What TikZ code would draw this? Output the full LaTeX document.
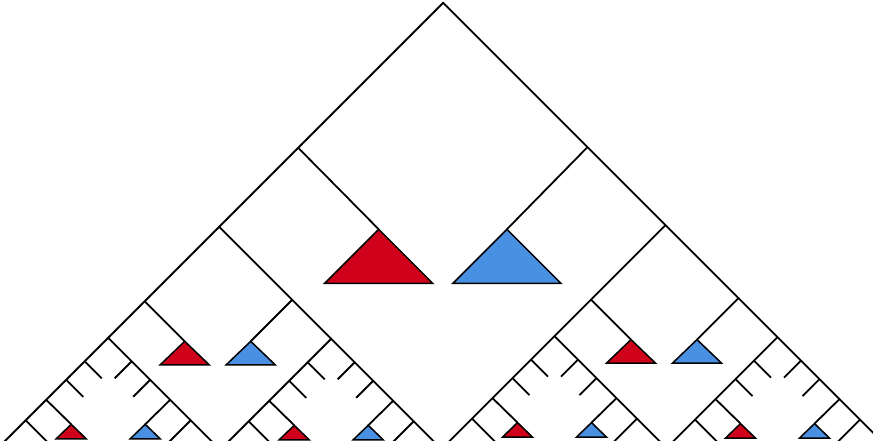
\documentclass[tikz,border=0pt]{standalone}
\usetikzlibrary{calc}
\definecolor{tred}{HTML}{D0021B}
\definecolor{tblue}{HTML}{4A90E2}
\tikzset{
  edge/.style={line width=1.8pt},
  tri/.style={draw=black, line width=1.5pt, line join=miter},
  redtri/.style={tri, fill=tred},
  bluetri/.style={tri, fill=tblue},
  pics/lvthree/.style={code={
    \coordinate (-a) at (0,0);
    \coordinate (-l1) at (-23.5,23.5);
    \coordinate (-l2) at (-42,42);
    \coordinate (-l3) at (-62,62);
    \coordinate (-l4) at (-82.5,82.5);
    \coordinate (-le) at (-108,108);
    \coordinate (-r1) at (23.5,23.5);
    \coordinate (-r2) at (42,42);
    \coordinate (-r3) at (62,62);
    \coordinate (-r4) at (82.5,82.5);
    \coordinate (-re) at (108,108);
    \coordinate (-tl1) at (-6.5,40.5);
    \coordinate (-tl2) at (-25,59);
    \coordinate (-tl4) at (-56.5,108.5);
    \coordinate (-tr1) at (6.5,40.5);
    \coordinate (-tr2) at (25,59);
    \coordinate (-tr4) at (56.5,108.5);
    \coordinate (-rt) at (-37,86.5);
    \coordinate (-bt) at (37,86.5);
    \draw[edge] (-le) -- (-a) -- (-re);
    \draw[edge] (-l1) -- (-tl1);
    \draw[edge] (-l2) -- (-tl2);
    \draw[edge] (-l4) -- (-tl4);
    \draw[edge] (-r1) -- (-tr1);
    \draw[edge] (-r2) -- (-tr2);
    \draw[edge] (-r4) -- (-tr4);
    \draw[edge] (-l3) -- (-rt);
    \draw[edge] (-r3) -- (-bt);
    \draw[redtri] (-rt) -- ++(-15,14.5) -- ++(30,0) -- cycle;
    \draw[bluetri] (-bt) -- ++(-15,14.5) -- ++(30,0) -- cycle;
  }},
  pics/lvtwo/.style={code={
    \coordinate (-a) at (0,0);
    \coordinate (-lj) at (-74.5,74.5);
    \coordinate (-rj) at (73,73);
    \coordinate (-rt) at (-34.5,114.5);
    \coordinate (-bt) at (31.5,114.5);
    \coordinate (-l3) at (-111,111);
    \coordinate (-r3) at (112,112);
    \draw[edge] (-l3) -- (-a) -- (-r3);
    \draw[edge] (-lj) -- (-rt);
    \draw[edge] (-rj) -- (-bt);
    \draw[redtri] (-rt) -- ++(-24.5,23.5) -- ++(49,0) -- cycle;
    \draw[bluetri] (-bt) -- ++(-24.5,23.5) -- ++(49,0) -- cycle;
  }}
}
\begin{document}
\begin{tikzpicture}[x=1pt,y=-1pt]
\useasboundingbox (0,0) rectangle (873,444);
\begin{scope}
\clip (-5,-5) rectangle (873,440.5);
\coordinate (root) at (443.2,2.8);
\coordinate (lj) at (298.2,147.8);
\coordinate (rj) at (587.5,147.1);
\coordinate (redA) at (378.7,229.3);
\coordinate (blueA) at (506.9,229.3);
\coordinate (L2) at (219.2,226.8);
\coordinate (R2) at (665.5,225.1);
\draw[edge] (L2) -- (root) -- (R2);
\draw[edge] (lj) -- (redA);
\draw[edge] (rj) -- (blueA);
\draw[redtri] (redA) -- ++(-54,54) -- ++(108,0) -- cycle;
\draw[bluetri] (blueA) -- ++(-54,54) -- ++(108,0) -- cycle;
\pic (A) at (L2) {lvtwo};
\pic (B) at (R2) {lvtwo};
\pic (AL) at (A-l3) {lvthree};
\pic (AR) at (A-r3) {lvthree};
\pic (BL) at (B-l3) {lvthree};
\pic (BR) at (B-r3) {lvthree};
\end{scope}
\end{tikzpicture}
\end{document}
